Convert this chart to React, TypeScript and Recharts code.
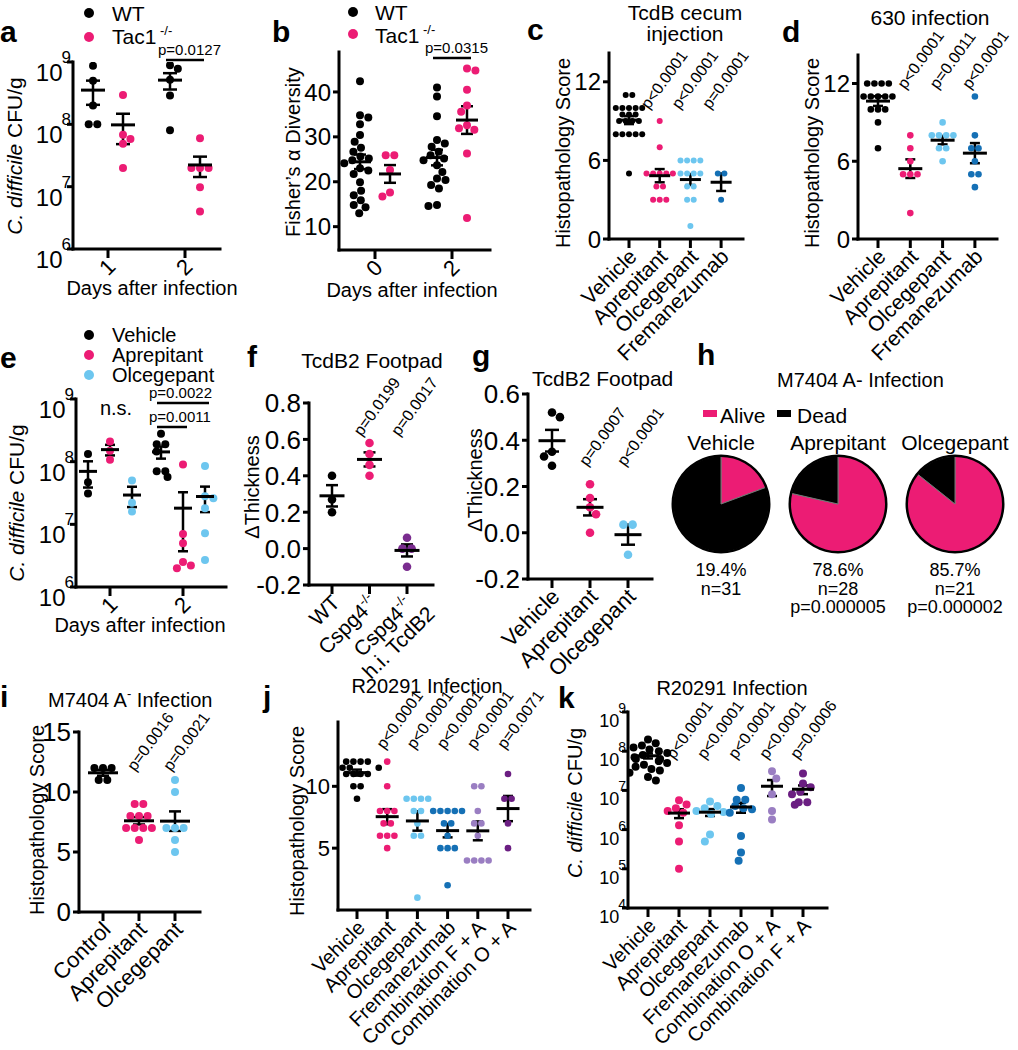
import React from "react";
import {
  ScatterChart,
  Scatter,
  XAxis,
  YAxis,
  ErrorBar,
  ReferenceLine,
  ReferenceDot,
  PieChart,
  Pie,
  Cell,
} from "recharts";

const FONT = "'Liberation Sans', Arial, Helvetica, sans-serif";
const INK = "#000000";
const PINK = "#EC1C74";
const SKY = "#6DC6EF";
const BLUE = "#1570B5";
const VIOLET = "#7A2C8F";
const LILAC = "#9A7EC2";
const PLUM = "#6B1E82";

// a — C. difficile burden, WT vs Tac1-/-
const A_DAYS = ["1", "2"];
const A_WT_D1 = [8.7e8, 5.0e8, 2.0e8, 1.0e8, 1.0e8];
const A_TAC_D1 = [2.95e8, 6.8e7, 5.8e7, 4.9e7, 2.0e7];
const A_WT_D2 = [8.9e8, 7.8e8, 5.2e8, 2.9e8, 8.0e7];
const A_TAC_D2 = [6.0e7, 2.0e7, 2.0e7, 2.0e7, 9.8e6, 4.0e6];

// b — Fisher's alpha diversity
const B_DAYS = ["0", "2"];
const B_WT_D0 = [42.4, 34.8, 34.3, 32.8, 30.4, 28.9, 27.6, 26.7, 25.6, 25.2, 24.8, 24.1, 23.0, 22.5, 21.7, 19.9, 18.0, 17.0, 15.9, 14.8, 14.3, 13.0];
const B_TAC_D0 = [25.9, 25.9, 22.6, 17.6, 16.7];
const B_WT_D2 = [41.0, 39.0, 34.6, 29.3, 28.5, 27.8, 26.7, 25.9, 25.2, 24.8, 23.7, 22.2, 20.7, 20.4, 19.3, 18.5, 14.8, 14.6];
const B_TAC_D2 = [45.2, 44.8, 40.5, 37.0, 35.6, 32.6, 31.9, 31.6, 26.3, 11.9];

// c — TcdB cecum injection
const DRUGS4 = ["Vehicle", "Aprepitant", "Olcegepant", "Fremanezumab"];
const C_VEH = [11, 11, 10, 10, 10, 10, 10, 9.5, 9.5, 9.5, 9, 9, 9, 9, 8, 8, 8, 8, 8, 5];
const C_APR = [9, 7, 5, 5, 5, 5, 5, 4, 4, 3, 3, 3];
const C_OLC = [6, 6, 6, 6, 5, 5, 5, 5, 4, 4, 3, 3, 1];
const C_FRE = [5, 5, 3];
const C_P = ["", "p<0.0001", "p<0.0001", "p=0.0001"];

// d — 630 infection
const D_VEH = [12, 12, 12, 12, 11, 11, 11, 11, 11, 10, 10, 10, 9, 7];
const D_APR = [8, 7, 6, 5, 5, 5, 2];
const D_OLC = [9, 8, 8, 8, 8, 7, 7, 6];
const D_FRE = [11, 8, 7, 7, 6, 5, 5, 4];
const D_P = ["", "p<0.0001", "p=0.0011", "p<0.0001"];

// e — CFU with drugs
const E_DAYS = ["1", "2"];
const E_VEH_D1 = [1.32e8, 4.7e7, 3.1e7];
const E_APR_D1 = [2.1e8, 1.5e8, 1.07e8];
const E_OLC_D1 = [5.0e7, 2.2e7, 1.6e7];
const E_VEH_D2 = [2.8e8, 1.9e8, 1.9e8, 1.45e8, 7.0e7, 7.0e7, 5.7e7];
const E_APR_D2 = [9.0e7, 7.0e6, 5.0e6, 2.5e6, 2.2e6, 2.0e6];
const E_OLC_D2 = [8.5e7, 2.8e7, 2.6e7, 1.8e7, 7.2e6, 2.7e6];

// f — TcdB2 footpad, Cspg4
const F_LABELS = [["WT"], ["Cspg4^-/-"], ["Cspg4^-/-", "h.i. TcdB2"]];
const F_WT = [0.4, 0.27, 0.2];
const F_KO = [0.58, 0.52, 0.46, 0.4];
const F_HI = [0.06, 0.0, 0.0, -0.1];
const F_P = ["", "p=0.0199", "p=0.0017"];

// g — TcdB2 footpad, drugs
const DRUGS3 = ["Vehicle", "Aprepitant", "Olcegepant"];
const G_VEH = [0.52, 0.5, 0.35, 0.33, 0.29];
const G_APR = [0.21, 0.15, 0.11, 0.08, 0.0];
const G_OLC = [0.035, 0.035, -0.095];
const G_P = ["", "p=0.0007", "p<0.0001"];

// h — survival
const H_GROUPS = ["Vehicle", "Aprepitant", "Olcegepant"];
const H_ALIVE = [6, 22, 18];
const H_N = [31, 28, 21];
const H_P = ["", "p=0.000005", "p=0.000002"];

// i — M7404 histopathology
const I_LABELS = ["Control", "Aprepitant", "Olcegepant"];
const I_CTL = [12, 12, 12, 11, 11];
const I_APR = [9, 9, 8, 8, 8, 7, 7, 7, 7, 6];
const I_OLC = [11, 10, 7, 7, 7, 6, 5];
const I_P = ["", "p=0.0016", "p=0.0021"];

// j — R20291 histopathology
const J_LABELS = ["Vehicle", "Aprepitant", "Olcegepant", "Fremanezumab", "Combination F + A", "Combination O + A"];
const J_VEH = [12, 12, 12, 12, 11.5, 11.5, 11.5, 11, 11, 11, 11, 10, 10, 9];
const J_APR = [12, 10, 8, 8, 8, 7, 7, 6, 6, 6, 5];
const J_OLC = [9, 9, 9, 9, 8, 8, 7, 6, 6, 1];
const J_FRE = [8, 8, 8, 8, 8, 7, 7, 6, 5, 5, 5, 2];
const J_CFA = [10, 10, 8, 7, 7, 6, 4, 4, 4, 4];
const J_COA = [11, 9, 9, 7, 5];
const J_P = ["", "p<0.0001", "p<0.0001", "p<0.0001", "p<0.0001", "p=0.0071"];

// k — R20291 CFU
const K_LABELS = ["Vehicle", "Aprepitant", "Olcegepant", "Fremanezumab", "Combination O + A", "Combination F + A"];
const K_VEH = [2.0e8, 1.6e8, 1.4e8, 1.25e8, 1.1e8, 1.0e8, 9.0e7, 8.0e7, 7.0e7, 6.3e7, 6.3e7, 5.6e7, 5.0e7, 4.5e7, 4.0e7, 3.5e7, 3.2e7, 2.8e7, 2.2e7, 1.8e7];
const K_APR = [5.6e6, 4.4e6, 3.5e6, 3.0e6, 2.7e6, 1.3e6, 5.0e5, 1.0e5];
const K_OLC = [5.2e6, 4.0e6, 3.5e6, 3.0e6, 2.8e6, 2.5e6, 7.5e5, 5.0e5];
const K_FRE = [1.15e7, 5.8e6, 5.8e6, 4.0e6, 3.5e6, 3.3e6, 2.7e6, 6.9e5, 2.6e5, 1.6e5];
const K_COA = [3.1e7, 2.0e7, 8.0e6, 3.0e6, 1.8e6];
const K_CFA = [2.7e7, 1.5e7, 1.2e7, 9.3e6, 8.0e6, 5.0e6, 5.0e6, 4.3e6];
const K_P = ["", "p<0.0001", "p<0.0001", "p<0.0001", "p<0.0001", "p=0.0006"];

type Group = { at: number; shiftPx?: number; color: string; values: number[] };
type Bar = { g1: number; g2: number; yPx: number; text: string };
type Cfg = {
  x0: number; x1: number; y0: number; y1: number; c0: number; step: number;
  log?: boolean; dom: [number, number]; ticks: number[]; fmt?: (v: number) => string;
  tickFont: number; supFont?: number; baseDy?: number; supDy?: number;
  xLabels: string[][]; xFont: number;
  groups: Group[]; r: number; meanW: number; cap: number;
  pText?: string[]; pY?: number; pDx?: number;
  bars?: Bar[]; notes?: { at: number; yPx: number; text: string }[];
};

const YW = 90;
const MT = 90;
const MR = 30;
const XH = 160;

// beeswarm offsets (px) from pixel y positions
function swarm(ys: number[], d: number): number[] {
  const order = ys.map((_, i) => i).sort((a, b) => ys[a] - ys[b]);
  const xs = ys.map(() => 0);
  const placed: number[] = [];
  for (const i of order) {
    const y = ys[i];
    const cands = [0];
    for (const j of placed) {
      const dy = Math.abs(y - ys[j]);
      if (dy < d) {
        const dx = Math.sqrt(d * d - dy * dy);
        cands.push(xs[j] + dx, xs[j] - dx);
      }
    }
    const bal = placed.reduce((s, j) => s + xs[j], 0);
    cands.sort((p, q) => Math.abs(p) - Math.abs(q) || (bal > 0 ? p - q : q - p));
    const ok = cands.find((cx) => placed.every((j) => (cx - xs[j]) ** 2 + (y - ys[j]) ** 2 >= d * d - 0.01));
    xs[i] = ok ?? 0;
    placed.push(i);
  }
  const seen = new Set<number>();
  for (const i of order) {
    if (seen.has(i)) continue;
    const row = order.filter((j) => Math.abs(ys[j] - ys[i]) < 0.5);
    row.forEach((j) => seen.add(j));
    if (row.length > 1) {
      const m = row.reduce((s, j) => s + xs[j], 0) / row.length;
      row.forEach((j) => (xs[j] -= m));
    }
  }
  return xs;
}

function rich(s: string, f: number) {
  const i = s.indexOf("^");
  if (i < 0) return s;
  return [s.slice(0, i), <tspan key="s" dy={-f * 0.42} fontSize={f * 0.62}>{s.slice(i + 1)}</tspan>];
}

function estW(s: string, f: number) {
  const i = s.indexOf("^");
  const base = i < 0 ? s : s.slice(0, i);
  const sup = i < 0 ? "" : s.slice(i + 1);
  return (base.length + sup.length * 0.62) * f * 0.55;
}

function DotPanel({ c }: { c: Cfg }) {
  const W = c.x1 - c.x0 + YW + MR;
  const H = c.y1 - c.y0 + MT + XH;
  const tr = (v: number) => (c.log ? Math.log10(v) : v);
  const lo = tr(c.dom[0]);
  const hi = tr(c.dom[1]);
  const toPx = (v: number) => c.y1 - ((tr(v) - lo) / (hi - lo)) * (c.y1 - c.y0);
  const toVal = (py: number) => {
    const t = lo + ((c.y1 - py) / (c.y1 - c.y0)) * (hi - lo);
    return c.log ? Math.pow(10, t) : t;
  };
  const gx = (g: Group) => g.at + (g.shiftPx ?? 0) / c.step;
  const xd: [number, number] = [(c.x0 - c.c0) / c.step, (c.x1 - c.c0) / c.step];

  const pts = c.groups.map((g) => {
    const offs = swarm(g.values.map(toPx), 2 * c.r + 0.6);
    return g.values.map((v, i) => ({ x: gx(g) + offs[i] / c.step, y: v }));
  });
  const stats = c.groups.map((g) => {
    const n = g.values.length;
    const m = g.values.reduce((s, v) => s + v, 0) / n;
    const sd = Math.sqrt(g.values.reduce((s, v) => s + (v - m) ** 2, 0) / (n - 1));
    const se = sd / Math.sqrt(n);
    return { x: gx(g), y: m, err: [c.log ? Math.min(se, m * 0.95) : se, se] };
  });

  const xTick = (p: any) => {
    const lines = c.xLabels[Math.round(p.payload.value)] ?? [];
    const f = c.xFont;
    if (lines.length === 1) {
      return (
        <g transform={`translate(${p.x + 9},${p.y + 8})`}>
          <text transform="rotate(-45)" textAnchor="end" fontSize={f} fontFamily={FONT} fill={INK}>
            {rich(lines[0], f)}
          </text>
        </g>
      );
    }
    // first line sits like a single label, following lines centred under it
    const along = -estW(lines[0], f) / 2;
    return (
      <g transform={`translate(${p.x + 9},${p.y + 8}) rotate(-45)`}>
        {lines.map((ln, i) => (
          <text key={i} x={along} y={i * f * 1.05} textAnchor="middle" fontSize={f} fontFamily={FONT} fill={INK}>
            {rich(ln, f)}
          </text>
        ))}
      </g>
    );
  };

  const yTick = (p: any) => {
    const v = p.payload.value;
    if (c.log) {
      const e = Math.round(Math.log10(v));
      return (
        <text x={p.x + 6} y={p.y + (c.baseDy ?? 18)} textAnchor="end" fontSize={c.tickFont} fontFamily={FONT} fill={INK}>
          10
          <tspan dx={-1} dy={c.supDy ?? -17} fontSize={c.supFont}>{e}</tspan>
        </text>
      );
    }
    return (
      <text x={p.x} y={p.y} dy="0.36em" textAnchor="end" fontSize={c.tickFont} fontFamily={FONT} fill={INK}>
        {c.fmt ? c.fmt(v) : String(v)}
      </text>
    );
  };

  const axisStyle = { stroke: INK, strokeWidth: 3, strokeLinecap: "square" as const };

  return (
    <div style={{ position: "absolute", left: c.x0 - YW, top: c.y0 - MT }}>
      <ScatterChart width={W} height={H} margin={{ top: MT, right: MR, bottom: 0, left: 0 }}>
        <XAxis
          type="number"
          dataKey="x"
          domain={xd}
          allowDataOverflow
          ticks={c.xLabels.map((_, i) => i)}
          interval={0}
          height={XH}
          tickSize={9}
          tickMargin={2}
          axisLine={axisStyle}
          tickLine={{ stroke: INK, strokeWidth: 3 }}
          tick={xTick}
        />
        <YAxis
          type="number"
          dataKey="y"
          domain={c.dom}
          scale={c.log ? "log" : "linear"}
          allowDataOverflow
          ticks={c.ticks}
          interval={0}
          width={YW}
          tickSize={6}
          tickMargin={2}
          axisLine={axisStyle}
          tickLine={{ stroke: INK, strokeWidth: 3 }}
          tick={yTick}
        />
        {pts.map((data, gi) => (
          <Scatter
            key={`p${gi}`}
            data={data}
            isAnimationActive={false}
            shape={(p: any) => <circle cx={p.cx} cy={p.cy} r={c.r} fill={c.groups[gi].color} />}
          />
        ))}
        {stats.map((s, gi) => (
          <Scatter
            key={`m${gi}`}
            data={[s]}
            isAnimationActive={false}
            shape={(p: any) => (
              <line x1={p.cx - c.meanW / 2} x2={p.cx + c.meanW / 2} y1={p.cy} y2={p.cy} stroke={INK} strokeWidth={3} />
            )}
          >
            <ErrorBar dataKey="err" direction="y" width={c.cap} stroke={INK} strokeWidth={2.5} />
          </Scatter>
        ))}
        {(c.pText ?? []).map((t, i) =>
          t ? (
            <ReferenceDot
              key={`pv${i}`}
              x={i + (c.pDx ?? -5) / c.step}
              y={toVal(c.pY ?? 0)}
              r={1}
              ifOverflow="visible"
              shape={(p: any) => (
                <text x={p.cx} y={p.cy} transform={`rotate(-54 ${p.cx} ${p.cy})`} fontSize={16} fontFamily={FONT} fill={INK}>
                  {t}
                </text>
              )}
            />
          ) : null
        )}
        {(c.bars ?? []).map((b, i) => {
          const xa = gx(c.groups[b.g1]) - 4 / c.step;
          const xb = gx(c.groups[b.g2]) + 4 / c.step;
          return (
            <ReferenceLine
              key={`bl${i}`}
              segment={[{ x: xa, y: toVal(b.yPx) }, { x: xb, y: toVal(b.yPx) }]}
              stroke={INK}
              strokeWidth={2.5}
              ifOverflow="visible"
            />
          );
        })}
        {(c.bars ?? []).map((b, i) => (
          <ReferenceDot
            key={`bt${i}`}
            x={gx(c.groups[b.g1]) - 12 / c.step}
            y={toVal(b.yPx - 5)}
            r={1}
            ifOverflow="visible"
            shape={(p: any) => (
              <text x={p.cx} y={p.cy} fontSize={15} fontFamily={FONT} fill={INK}>
                {b.text}
              </text>
            )}
          />
        ))}
        {(c.notes ?? []).map((nt, i) => (
          <ReferenceDot
            key={`nt${i}`}
            x={nt.at}
            y={toVal(nt.yPx)}
            r={1}
            ifOverflow="visible"
            shape={(p: any) => (
              <text x={p.cx + 6} y={p.cy} textAnchor="middle" fontSize={20} fontFamily={FONT} fill={INK}>
                {nt.text}
              </text>
            )}
          />
        ))}
      </ScatterChart>
    </div>
  );
}

const fmt1 = (v: number) => v.toFixed(1);
const cats = (xs: string[]) => xs.map((x) => [x]);
const LOG_A = { tickFont: 24, supFont: 17, baseDy: 19, supDy: -18 };

const PANELS: Cfg[] = [
  {
    x0: 73, x1: 220, y0: 62, y1: 249, c0: 108, step: 77,
    log: true, dom: [1e6, 1e9], ticks: [1e6, 1e7, 1e8, 1e9], ...LOG_A,
    xLabels: cats(A_DAYS), xFont: 22,
    groups: [
      { at: 0, shiftPx: -15, color: INK, values: A_WT_D1 },
      { at: 0, shiftPx: 15, color: PINK, values: A_TAC_D1 },
      { at: 1, shiftPx: -15, color: INK, values: A_WT_D2 },
      { at: 1, shiftPx: 15, color: PINK, values: A_TAC_D2 },
    ],
    r: 4, meanW: 24, cap: 7,
    bars: [{ g1: 2, g2: 3, yPx: 60, text: "p=0.0127" }],
  },
  {
    x0: 339, x1: 490, y0: 52, y1: 250, c0: 375, step: 77,
    dom: [4.8, 48.9], ticks: [10, 20, 30, 40], tickFont: 24,
    xLabels: cats(B_DAYS), xFont: 22,
    groups: [
      { at: 0, shiftPx: -15, color: INK, values: B_WT_D0 },
      { at: 0, shiftPx: 15, color: PINK, values: B_TAC_D0 },
      { at: 1, shiftPx: -15, color: INK, values: B_WT_D2 },
      { at: 1, shiftPx: 15, color: PINK, values: B_TAC_D2 },
    ],
    r: 4, meanW: 22, cap: 6,
    bars: [{ g1: 2, g2: 3, yPx: 58, text: "p=0.0315" }],
  },
  {
    x0: 609, x1: 743, y0: 53, y1: 239, c0: 629, step: 30.7,
    dom: [0, 14.2], ticks: [0, 6, 12], tickFont: 24,
    xLabels: cats(DRUGS4), xFont: 21,
    groups: [
      { at: 0, color: INK, values: C_VEH },
      { at: 1, color: PINK, values: C_APR },
      { at: 2, color: SKY, values: C_OLC },
      { at: 3, color: BLUE, values: C_FRE },
    ],
    r: 3, meanW: 21, cap: 5, pText: C_P, pY: 110, pDx: -11,
  },
  {
    x0: 858, x1: 997, y0: 55, y1: 239, c0: 878, step: 32.3,
    dom: [0, 14.2], ticks: [0, 6, 12], tickFont: 24,
    xLabels: cats(DRUGS4), xFont: 21,
    groups: [
      { at: 0, color: INK, values: D_VEH },
      { at: 1, color: PINK, values: D_APR },
      { at: 2, color: SKY, values: D_OLC },
      { at: 3, color: BLUE, values: D_FRE },
    ],
    r: 3.3, meanW: 24, cap: 5, pText: D_P, pY: 90, pDx: -5,
  },
  {
    x0: 76, x1: 226, y0: 399, y1: 587, c0: 110, step: 73,
    log: true, dom: [1e6, 1e9], ticks: [1e6, 1e7, 1e8, 1e9], ...LOG_A,
    xLabels: cats(E_DAYS), xFont: 22,
    groups: [
      { at: 0, shiftPx: -22, color: INK, values: E_VEH_D1 },
      { at: 0, shiftPx: 0, color: PINK, values: E_APR_D1 },
      { at: 0, shiftPx: 22, color: SKY, values: E_OLC_D1 },
      { at: 1, shiftPx: -22, color: INK, values: E_VEH_D2 },
      { at: 1, shiftPx: 0, color: PINK, values: E_APR_D2 },
      { at: 1, shiftPx: 22, color: SKY, values: E_OLC_D2 },
    ],
    r: 4, meanW: 18, cap: 5,
    bars: [
      { g1: 3, g2: 5, yPx: 403, text: "p=0.0022" },
      { g1: 3, g2: 4, yPx: 427, text: "p=0.0011" },
    ],
    notes: [{ at: 0, yPx: 415, text: "n.s." }],
  },
  {
    x0: 309, x1: 433, y0: 403, y1: 585, c0: 332, step: 37.5,
    dom: [-0.2, 0.8], ticks: [-0.2, 0, 0.2, 0.4, 0.6, 0.8], fmt: fmt1, tickFont: 26,
    xLabels: F_LABELS, xFont: 21,
    groups: [
      { at: 0, color: INK, values: F_WT },
      { at: 1, color: PINK, values: F_KO },
      { at: 2, color: VIOLET, values: F_HI },
    ],
    r: 4.3, meanW: 25, cap: 6, pText: F_P, pY: 437, pDx: -8,
  },
  {
    x0: 528, x1: 652, y0: 394, y1: 579, c0: 552, step: 38,
    dom: [-0.2, 0.6], ticks: [-0.2, 0, 0.2, 0.4, 0.6], fmt: fmt1, tickFont: 26,
    xLabels: cats(DRUGS3), xFont: 22,
    groups: [
      { at: 0, color: INK, values: G_VEH },
      { at: 1, color: PINK, values: G_APR },
      { at: 2, color: SKY, values: G_OLC },
    ],
    r: 4.3, meanW: 27, cap: 7, pText: G_P, pY: 467, pDx: -3,
  },
  {
    x0: 79, x1: 200, y0: 732, y1: 912, c0: 103, step: 36,
    dom: [0, 15], ticks: [0, 5, 10, 15], tickFont: 26,
    xLabels: cats(I_LABELS), xFont: 22,
    groups: [
      { at: 0, color: INK, values: I_CTL },
      { at: 1, color: PINK, values: I_APR },
      { at: 2, color: SKY, values: I_OLC },
    ],
    r: 4, meanW: 30, cap: 6, pText: I_P, pY: 772, pDx: -4,
  },
  {
    x0: 338, x1: 530, y0: 722, y1: 910, c0: 357, step: 30.2,
    dom: [0, 15.2], ticks: [5, 10], tickFont: 22,
    xLabels: cats(J_LABELS), xFont: 20,
    groups: [
      { at: 0, color: INK, values: J_VEH },
      { at: 1, color: PINK, values: J_APR },
      { at: 2, color: SKY, values: J_OLC },
      { at: 3, color: BLUE, values: J_FRE },
      { at: 4, color: LILAC, values: J_CFA },
      { at: 5, color: PLUM, values: J_COA },
    ],
    r: 3.3, meanW: 23, cap: 5, pText: J_P, pY: 750, pDx: -3,
  },
  {
    x0: 628, x1: 827, y0: 712, y1: 908, c0: 648, step: 31,
    log: true, dom: [1e4, 1e9], ticks: [1e4, 1e5, 1e6, 1e7, 1e8, 1e9],
    tickFont: 18, supFont: 14, baseDy: 15, supDy: -14,
    xLabels: cats(K_LABELS), xFont: 20,
    groups: [
      { at: 0, color: INK, values: K_VEH },
      { at: 1, color: PINK, values: K_APR },
      { at: 2, color: SKY, values: K_OLC },
      { at: 3, color: BLUE, values: K_FRE },
      { at: 4, color: LILAC, values: K_COA },
      { at: 5, color: PLUM, values: K_CFA },
    ],
    r: 4, meanW: 22, cap: 5, pText: K_P, pY: 760, pDx: -5,
  },
];

const PIE_LEFT = 660;
const PIE_TOP = 440;
const PIE_CX = [61, 178, 295];

function PiePanel() {
  return (
    <div style={{ position: "absolute", left: PIE_LEFT, top: PIE_TOP }}>
      <PieChart width={360} height={130} margin={{ top: 0, right: 0, bottom: 0, left: 0 }}>
        {H_ALIVE.map((a, i) => (
          <Pie
            key={`s${i}`}
            data={[
              { name: "Alive", value: a },
              { name: "Dead", value: H_N[i] - a },
            ]}
            dataKey="value"
            cx={PIE_CX[i]}
            cy={64}
            outerRadius={48}
            startAngle={90}
            endAngle={-270}
            stroke="#777"
            strokeWidth={1}
            isAnimationActive={false}
          >
            <Cell fill={PINK} />
            <Cell fill={INK} />
          </Pie>
        ))}
        {H_ALIVE.map((_, i) => (
          <Pie
            key={`r${i}`}
            data={[{ name: "ring", value: 1 }]}
            dataKey="value"
            cx={PIE_CX[i]}
            cy={64}
            innerRadius={47}
            outerRadius={49.5}
            fill={INK}
            stroke="none"
            isAnimationActive={false}
          />
        ))}
      </PieChart>
    </div>
  );
}

type TP = { x: number; y: number; s?: number; a?: "start" | "middle" | "end"; b?: boolean; children: React.ReactNode };
const T = ({ x, y, s = 20, a = "start", b = false, children }: TP) => (
  <text x={x} y={y} fontSize={s} textAnchor={a} fontWeight={b ? "bold" : "normal"} fontFamily={FONT} fill={INK}>
    {children}
  </text>
);

const VT = ({ x, y, s = 20, children }: { x: number; y: number; s?: number; children: React.ReactNode }) => (
  <text x={x} y={y} dy="0.35em" transform={`rotate(-90 ${x} ${y})`} fontSize={s} textAnchor="middle" fontFamily={FONT} fill={INK}>
    {children}
  </text>
);

const CFU = (
  <>
    <tspan fontStyle="italic">C. difficile</tspan> CFU/g
  </>
);

function Overlay() {
  const letters: [string, number, number][] = [
    ["a", 0, 42], ["b", 272, 42], ["c", 527, 40], ["d", 782, 42], ["e", 0, 368], ["f", 247, 367],
    ["g", 472, 366], ["h", 697, 365], ["i", 0, 707], ["j", 263, 707], ["k", 558, 708],
  ];
  return (
    <svg width={1018} height={1050} style={{ position: "absolute", left: 0, top: 0, pointerEvents: "none" }}>
      {letters.map(([l, x, y]) => (
        <T key={l} x={x} y={y} s={30} b>{l}</T>
      ))}

      {/* legends */}
      <circle cx={89} cy={13} r={5} fill={INK} />
      <T x={112} y={21} s={21}>WT</T>
      <circle cx={89} cy={37} r={5} fill={PINK} />
      <T x={112} y={44} s={21}>{rich("Tac1^ -/-", 21)}</T>
      <circle cx={353} cy={12} r={5} fill={INK} />
      <T x={375} y={20} s={21}>WT</T>
      <circle cx={353} cy={34} r={5} fill={PINK} />
      <T x={375} y={43} s={21}>{rich("Tac1^ -/-", 21)}</T>
      <circle cx={89} cy={335} r={5} fill={INK} />
      <T x={112} y={342} s={20}>Vehicle</T>
      <circle cx={89} cy={355} r={5} fill={PINK} />
      <T x={112} y={362} s={20}>Aprepitant</T>
      <circle cx={89} cy={375} r={5} fill={SKY} />
      <T x={112} y={382} s={20}>Olcegepant</T>

      {/* titles */}
      <T x={685} y={20} s={21} a="middle">TcdB cecum</T>
      <T x={685} y={41} s={21} a="middle">injection</T>
      <T x={930} y={25} s={21} a="middle">630 infection</T>
      <T x={372} y={368} s={21} a="middle">TcdB2 Footpad</T>
      <T x={532} y={386} s={21}>TcdB2 Footpad</T>
      <T x={777} y={387} s={20}>M7404 A- Infection</T>
      <T x={48} y={707} s={20}>
        M7404 A<tspan dy={-9} fontSize={13}>-</tspan>
        <tspan dy={9}> Infection</tspan>
      </T>
      <T x={427} y={693} s={20} a="middle">R20291 Infection</T>
      <T x={732} y={695} s={20} a="middle">R20291 Infection</T>

      {/* y-axis titles */}
      <VT x={15} y={156} s={21}>{CFU}</VT>
      <VT x={293} y={152}>Fisher’s α Diversity</VT>
      <VT x={563} y={153}>Histopathology Score</VT>
      <VT x={812} y={153}>Histopathology Score</VT>
      <VT x={17} y={503} s={21}>{CFU}</VT>
      <VT x={252} y={487}>ΔThickness</VT>
      <VT x={475} y={480}>ΔThickness</VT>
      <VT x={37} y={820}>Histopathology Score</VT>
      <VT x={297} y={821}>Histopathology Score</VT>
      <VT x={575} y={803}>{CFU}</VT>

      {/* x-axis titles */}
      <T x={152} y={295} a="middle">Days after infection</T>
      <T x={412} y={297} a="middle">Days after infection</T>
      <T x={140} y={632} a="middle">Days after infection</T>

      {/* h legend and labels */}
      <rect x={703} y={410} width={14} height={7} fill={PINK} />
      <T x={720} y={423} s={21}>Alive</T>
      <rect x={777} y={410} width={14} height={7} fill={INK} />
      <T x={797} y={423} s={21}>Dead</T>
      {H_GROUPS.map((g, i) => (
        <g key={g}>
          <T x={PIE_LEFT + PIE_CX[i]} y={450} s={21} a="middle">{g}</T>
          <T x={PIE_LEFT + PIE_CX[i]} y={576} s={18} a="middle">{((H_ALIVE[i] / H_N[i]) * 100).toFixed(1)}%</T>
          <T x={PIE_LEFT + PIE_CX[i]} y={594.5} s={18} a="middle">n={H_N[i]}</T>
          {H_P[i] ? <T x={PIE_LEFT + PIE_CX[i]} y={613} s={18} a="middle">{H_P[i]}</T> : null}
        </g>
      ))}
    </svg>
  );
}

export default function App() {
  return (
    <div style={{ position: "absolute", left: 0, top: 0, width: 1018, height: 1050, background: "#fff" }}>
      {PANELS.map((p, i) => (
        <DotPanel key={i} c={p} />
      ))}
      <PiePanel />
      <Overlay />
    </div>
  );
}
